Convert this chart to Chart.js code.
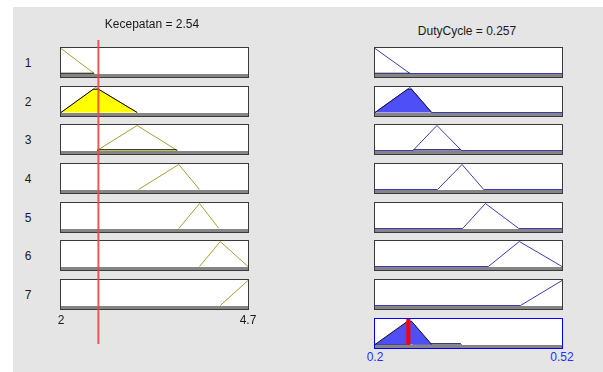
<!DOCTYPE html>
<html><head><meta charset="utf-8">
<script src="https://cdn.jsdelivr.net/npm/chart.js@4"></script>
<style>
body{margin:0;background:#fff;width:603px;height:372px;overflow:hidden;position:relative;font-family:"Liberation Sans",Arial,sans-serif;}
#bg{position:absolute;left:13px;top:7px;width:590px;height:365px;background:#e5e5e5;}
.panel{position:absolute;box-sizing:border-box;width:189px;height:31px;border:1px solid #3a3a3a;background:#fff;}
.panel.out{border-color:#0000ff;}
.panel canvas{display:block;}
.band{height:3px;background:#858585;}
.txt{position:absolute;font-size:12px;color:#1a1a1a;white-space:nowrap;transform:translate(-50%,-50%);}
.txt.blue{color:#2b2bff;}
#redline{position:absolute;pointer-events:none;}
</style></head><body>
<div id="bg"></div>
<script>
// Fuzzy system: one input, one output, seven rules
const inputName = 'Kecepatan', outputName = 'DutyCycle';
const inputRange = [2, 4.7];
const outputRange = [0.2, 0.52];
const inputValue = 2.54;
const outputValue = 0.257;
const ruleLabels = ['1', '2', '3', '4', '5', '6', '7'];
// triangular membership functions [a, b, c]
const inputMF = [[2, 2, 2.48], [2, 2.5, 3.1], [2.52, 3.1, 3.68], [3.12, 3.7, 4.0], [3.7, 4.0, 4.28], [4.0, 4.3, 4.7], [4.3, 4.7, 4.7]];
const outputMF = [[0.2, 0.2, 0.26], [0.2, 0.26, 0.297], [0.265, 0.306, 0.348], [0.307, 0.349, 0.386], [0.35, 0.389, 0.446], [0.394, 0.447, 0.52], [0.449, 0.52, 0.52]];
// firing strength of each rule
const ruleStrength = [0.01, 0.93, 0.03, 0, 0, 0, 0];
const inputTicks = ['2', '4.7'];
const outputTicks = ['0.2', '0.52'];

// layout
const inLeft = 60, outLeft = 374, rowTop = 47, rowStep = 38.67;
const CW = 187, CH = 26;

const inLine = '#a29f34', outLine = '#3b3bb3';
const yellow = '#ffff00', blue = '#4f4ff7';

function triPoints(m, full, range) {
  const [a, b, c] = m;
  const pts = [];
  if (full && a > range[0]) pts.push({x: range[0], y: 0});
  pts.push({x: a, y: a === b ? 1 : 0});
  pts.push({x: b, y: 1});
  pts.push({x: c, y: c === b ? 1 : 0});
  if (full && c < range[1]) pts.push({x: range[1], y: 0});
  return pts;
}
function clipPoints(m, h) {
  const [a, b, c] = m;
  return [{x: a, y: 0}, {x: a + h * (b - a), y: h}, {x: c - h * (c - b), y: h}, {x: c, y: 0}];
}

function makePanel(left, top, cls) {
  const d = document.createElement('div');
  d.className = 'panel' + (cls ? ' ' + cls : '');
  d.style.left = left + 'px';
  d.style.top = top + 'px';
  const cv = document.createElement('canvas');
  cv.width = CW; cv.height = CH;
  cv.style.width = CW + 'px'; cv.style.height = CH + 'px';
  d.appendChild(cv);
  const band = document.createElement('div');
  band.className = 'band';
  d.appendChild(band);
  document.body.appendChild(d);
  return cv;
}

function baseOptions(range, ymin, ymax) {
  return {
    responsive: false, animation: false, devicePixelRatio: 1,
    layout: {padding: 0},
    plugins: {legend: {display: false}, tooltip: {enabled: false}, title: {display: false}},
    elements: {point: {radius: 0}, line: {tension: 0}},
    scales: {
      x: {type: 'linear', min: range[0], max: range[1], display: false},
      y: {type: 'linear', min: ymin, max: ymax, display: false}
    }
  };
}

function lineSet(pts, color, width) {
  return {data: pts, showLine: true, borderColor: color, borderWidth: width, fill: false, clip: false, pointRadius: 0};
}
function patchSet(pts, fillColor, edge) {
  return {data: pts, showLine: true, borderColor: edge, borderWidth: 1, backgroundColor: fillColor, fill: 'origin', clip: false, pointRadius: 0};
}

function text(str, x, y, cls) {
  const t = document.createElement('div');
  t.className = 'txt' + (cls ? ' ' + cls : '');
  t.textContent = str;
  t.style.left = x + 'px';
  t.style.top = y + 'px';
  document.body.appendChild(t);
}

let lastIn = null, aggChart = null;
const aggTop = rowTop + ruleLabels.length * rowStep;

ruleLabels.forEach((lab, i) => {
  const top = Math.round(rowTop + i * rowStep);
  const h = ruleStrength[i];
  // input membership function of this rule
  const inSets = [];
  if (h > 0) inSets.push(patchSet(clipPoints(inputMF[i], h), yellow, '#000000'));
  inSets.push(lineSet(triPoints(inputMF[i], false, inputRange), inLine, 1));
  const ci = new Chart(makePanel(inLeft, top), {type: 'scatter', data: {datasets: inSets}, options: baseOptions(inputRange, -0.02, 1.02)});
  lastIn = ci;
  // output membership function of this rule
  const outSets = [];
  if (h > 0) outSets.push(patchSet(clipPoints(outputMF[i], h), blue, '#10104a'));
  outSets.push(lineSet(triPoints(outputMF[i], true, outputRange), outLine, 1));
  new Chart(makePanel(outLeft, top), {type: 'scatter', data: {datasets: outSets}, options: baseOptions(outputRange, -0.02, 1.02)});
  text(lab, 28, top + 15.5);
});

// aggregated output with the defuzzified value
(function () {
  const top = Math.round(aggTop);
  const sets = [lineSet([{x: outputValue, y: -0.2}, {x: outputValue, y: 1.1}], '#ff0000', 4)];
  ruleStrength.map((h, i) => ({h, i})).filter(r => r.h > 0).sort((p, q) => q.h - p.h)
    .forEach(r => sets.push(patchSet(clipPoints(outputMF[r.i], r.h), blue, '#111111')));
  aggChart = new Chart(makePanel(outLeft, top, 'out'), {type: 'scatter', data: {datasets: sets}, options: baseOptions(outputRange, -0.02, 1.02)});
})();

// vertical marker of the input value across all rules
(function () {
  const cv = document.createElement('canvas');
  const h = 304;
  cv.id = 'redline';
  cv.width = CW; cv.height = h;
  cv.style.left = (inLeft + 1) + 'px';
  cv.style.top = '40px';
  cv.style.width = CW + 'px'; cv.style.height = h + 'px';
  document.body.appendChild(cv);
  new Chart(cv, {type: 'scatter', data: {datasets: [lineSet([{x: inputValue, y: 0}, {x: inputValue, y: 1}], 'rgba(238,70,70,0.9)', 2)]}, options: baseOptions(inputRange, 0, 1)});
})();

// titles and range labels
text(inputName + ' = ' + inputValue, 152, 24);
text(outputName + ' = ' + outputValue, 467, 31);
inputTicks.forEach(t => text(t, inLeft + 1 + lastIn.scales.x.getPixelForValue(Number(t)), 320));
outputTicks.forEach(t => text(t, outLeft + 1 + aggChart.scales.x.getPixelForValue(Number(t)), 357, 'blue'));
</script>
</body></html>
